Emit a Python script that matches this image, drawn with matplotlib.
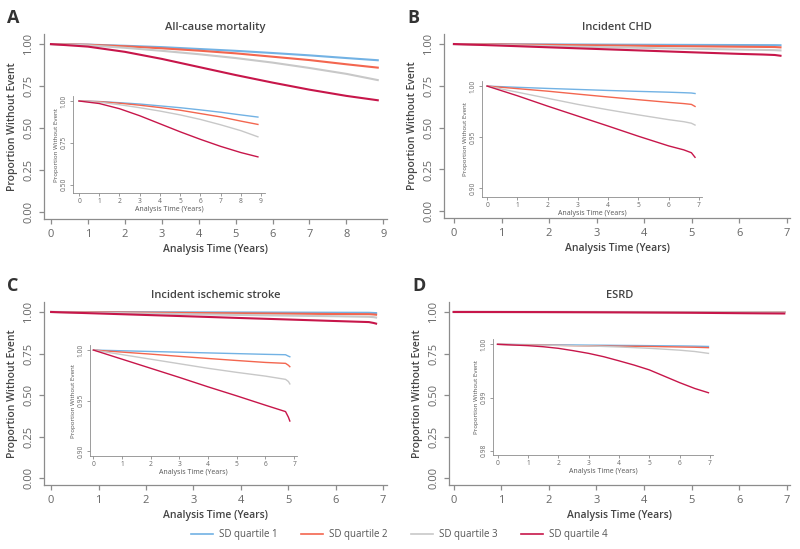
import matplotlib
matplotlib.use("Agg")
import numpy as np
from matplotlib import pyplot as plt

plt.rcParams['font.family'] = ['Open Sans', 'DejaVu Sans']

# colours of the four SD quartiles
labels = ["SD quartile 1", "SD quartile 2", "SD quartile 3", "SD quartile 4"]
colors = ["#72b2e4", "#f3664f", "#c8c8c8", "#c7164a"]

# A - all-cause mortality
t_a = [0, 1, 2, 3, 4, 5, 6, 7, 8, 8.85]
a_q1 = [1, 0.997, 0.990, 0.982, 0.971, 0.960, 0.947, 0.933, 0.917, 0.904]
a_q2 = [1, 0.996, 0.987, 0.975, 0.961, 0.945, 0.925, 0.905, 0.880, 0.860]
a_q3 = [1, 0.993, 0.978, 0.960, 0.940, 0.917, 0.890, 0.858, 0.823, 0.786]
a_q4 = [1, 0.985, 0.954, 0.912, 0.864, 0.816, 0.771, 0.729, 0.692, 0.666]

# B - incident CHD
t_b = [0, 1, 2, 3, 4, 5, 6, 6.5, 6.75, 6.87]
b_q1 = [1, 0.9988, 0.9977, 0.9967, 0.9957, 0.9948, 0.9940, 0.9935, 0.9932, 0.9927]
b_q2 = [1, 0.9975, 0.9950, 0.9921, 0.9893, 0.9866, 0.9840, 0.9828, 0.9820, 0.9800]
b_q3 = [1, 0.9940, 0.9880, 0.9820, 0.9767, 0.9717, 0.9670, 0.9650, 0.9635, 0.9617]
b_q4 = [1, 0.9905, 0.9803, 0.9705, 0.9607, 0.9507, 0.9412, 0.9373, 0.9345, 0.9300]

# C - incident ischemic stroke
t_c = [0, 1, 2, 3, 4, 5, 6, 6.7, 6.8, 6.85]
c_q1 = [1, 0.9993, 0.9986, 0.9979, 0.9972, 0.9965, 0.9958, 0.9954, 0.9940, 0.9934]
c_q2 = [1, 0.9980, 0.9960, 0.9938, 0.9917, 0.9897, 0.9878, 0.9869, 0.9850, 0.9836]
c_q3 = [1, 0.9955, 0.9910, 0.9865, 0.9820, 0.9780, 0.9743, 0.9711, 0.9690, 0.9666]
c_q4 = [1, 0.9910, 0.9820, 0.9730, 0.9637, 0.9548, 0.9456, 0.9393, 0.9338, 0.9300]

# D - ESRD
t_d = [0, 1, 1.5, 2, 2.5, 3, 3.5, 4, 4.5, 5, 5.5, 6, 6.5, 6.95]
d_q1 = [1, 0.99995, 0.99993, 0.9999, 0.99988, 0.99985, 0.99983, 0.9998, 0.99978,
        0.99975, 0.99972, 0.9997, 0.99966, 0.9996]
d_q2 = [1, 0.9999, 0.99985, 0.9998, 0.99975, 0.9997, 0.99968, 0.99965, 0.99963,
        0.9996, 0.99955, 0.9995, 0.99945, 0.99937]
d_q3 = [1, 0.99985, 0.99983, 0.9998, 0.99975, 0.9997, 0.9996, 0.9995, 0.99938,
        0.99925, 0.99908, 0.9989, 0.99865, 0.9983]
d_q4 = [1, 0.99975, 0.99955, 0.99925, 0.9988, 0.9983, 0.99767, 0.9969, 0.9961,
        0.9952, 0.9940, 0.9928, 0.9917, 0.9909]

titles = ["All-cause mortality", "Incident CHD", "Incident ischemic stroke", "ESRD"]
letters = ["A", "B", "C", "D"]
xmax = [9, 7, 7, 7]
inset_y = [[0.50, 0.75, 1.00], [0.90, 0.95, 1.00], [0.90, 0.95, 1.00], [0.98, 0.99, 1.00]]
panels = [
    (t_a, [a_q1, a_q2, a_q3, a_q4]),
    (t_b, [b_q1, b_q2, b_q3, b_q4]),
    (t_c, [c_q1, c_q2, c_q3, c_q4]),
    (t_d, [d_q1, d_q2, d_q3, d_q4]),
]

W, H = 800, 549
# pixel boxes (left, top, right, bottom) for main axes and insets
main_box = [(44, 34, 387, 219), (444, 34, 790, 218), (44, 302, 387, 485), (449, 302, 790, 485)]
inset_box = [(73, 96, 265, 193), (482, 81, 702, 197), (90, 345, 297, 456), (493, 339, 713, 455)]
main_xlim = [(-0.19, 9.1), (-0.21, 7.07), (-0.15, 7.08), (-0.1, 7.07)]
inset_xlim = [(-0.3, 9.2), (-0.17, 7.1), (-0.12, 7.1), (-0.15, 7.1)]
inset_ylim = [(0.45, 1.03), (0.891, 1.005), (0.8955, 1.005), (0.9792, 1.001)]

txt = "#444444"
grey = "#8c8c8c"


def box(b):
    l, t, r, bt = b
    return [l / W, 1 - bt / H, (r - l) / W, (bt - t) / H]


def style(ax, fs, lw):
    for s in ["top", "right"]:
        ax.spines[s].set_visible(False)
    for s in ["left", "bottom"]:
        ax.spines[s].set_color(grey)
        ax.spines[s].set_linewidth(lw)
    ax.tick_params(colors=grey, labelcolor="#666666", labelsize=fs, width=lw, length=fs * 0.45)
    ax.set_facecolor("none")


fig = plt.figure(figsize=(8, 5.49), dpi=100)

for k in range(4):
    t, series = panels[k]
    ax = fig.add_axes(box(main_box[k]))
    for s, c, lab in zip(series, colors, labels):
        ax.plot(t, s, color=c, lw=1.5, label=lab)
    ax.set_xlim(main_xlim[k])
    ax.set_ylim(-0.04, 1.06)
    ax.set_xticks(range(xmax[k] + 1))
    ax.set_yticks([0, 0.25, 0.5, 0.75, 1.0])
    ax.set_yticklabels(["0.00", "0.25", "0.50", "0.75", "1.00"], rotation=90, va="center")
    style(ax, 8, 0.9)
    ax.set_xlabel("Analysis Time (Years)", fontsize=7.5, color=txt, fontweight="semibold", labelpad=3)
    ax.set_ylabel("Proportion Without Event", fontsize=7.5, color=txt, fontweight="semibold", labelpad=4)
    ax.set_title(titles[k], fontsize=8, color=txt, fontweight="semibold", pad=3)
    l, tp, r, bt = main_box[k]
    fig.text((l - 37) / W, 1 - (tp - 16) / H, letters[k], fontsize=13, fontweight="bold",
             color="#333333", ha="left", va="center")

    ins = fig.add_axes(box(inset_box[k]))
    for s, c in zip(series, colors):
        ins.plot(t, s, color=c, lw=1.0)
    ins.set_xlim(inset_xlim[k])
    ins.set_ylim(inset_ylim[k])
    ins.set_xticks(range(xmax[k] + 1))
    ins.set_yticks(inset_y[k])
    ins.set_yticklabels(["%.2f" % v for v in inset_y[k]], rotation=90, va="center")
    style(ins, 4.8, 0.6)
    ins.set_facecolor("white")
    ins.tick_params(pad=1.5)
    ins.set_xlabel("Analysis Time (Years)", fontsize=5, color="#555555", labelpad=1)
    ins.set_ylabel("Proportion Without Event", fontsize=4.5, color="#555555", labelpad=1.5)

handles = [plt.Line2D([], [], color=c, lw=1.2) for c in colors]
fig.legend(handles, labels, loc="center", bbox_to_anchor=(0.499, 1 - 535 / H), ncol=4,
           frameon=False, fontsize=7, labelcolor="#555555", handlelength=2.3,
           columnspacing=2.4, handletextpad=0.6)

fig.savefig("out.png", dpi=100)
